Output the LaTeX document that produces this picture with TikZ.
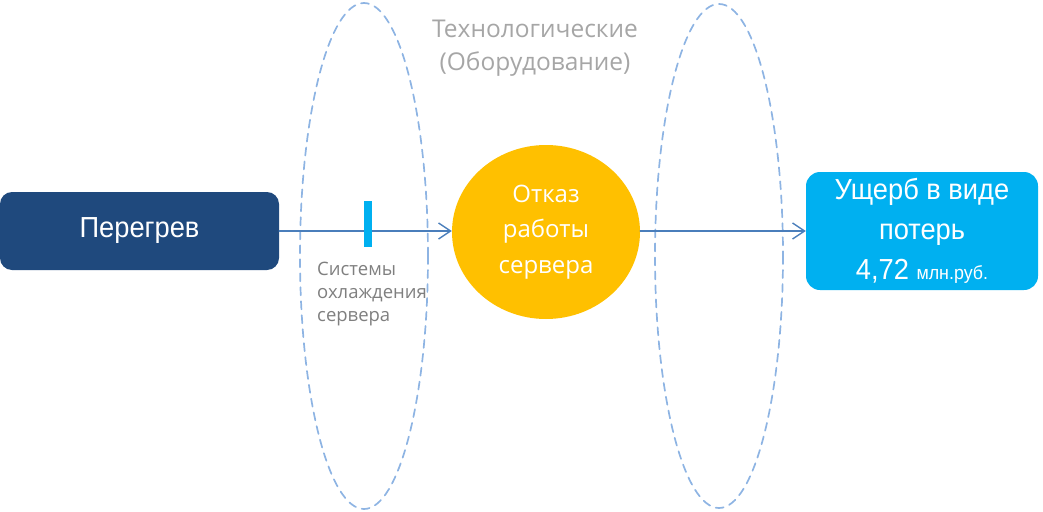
\documentclass[tikz,border=0pt]{standalone}
\usepackage{fontspec}
\setmainfont{Open Sans}
\newfontfamily\narrowsans{Liberation Sans}[FakeStretch=0.94]
\usepackage{tikz}
\usetikzlibrary{arrows.meta,shapes.geometric}
\usepackage{xcolor}
\definecolor{darkbox}{HTML}{1F497D}
\definecolor{lightbox}{HTML}{00B0F0}
\definecolor{amber}{HTML}{FFC000}
\definecolor{linkblue}{HTML}{4A7EBB}
\definecolor{ovalblue}{HTML}{8EB4E3}
\definecolor{labelgray}{HTML}{7F7F7F}
\definecolor{titlegray}{HTML}{A6A6A6}
\begin{document}
\begin{tikzpicture}[x=1pt,y=-1pt,>={Straight Barb[length=12pt,width=16pt]},line cap=round,
  zone/.style={ovalblue,line width=1.7pt,dash pattern=on 8pt off 6pt},
  link/.style={linkblue,line width=1.4pt,->}]
\useasboundingbox (0,0) rectangle (1043,511);
% dashed zones
\draw[zone] (364,256) ellipse[x radius=64,y radius=253];
\draw[zone] (719,256) ellipse[x radius=64,y radius=252];
% title of the zone
\node[text=titlegray,align=center,font=\fontsize{24.5}{33}\selectfont] (title) at (535,48) {Технологические\\(Оборудование)};
% chain
\node[fill=darkbox,rounded corners=12pt,minimum width=279,minimum height=78,inner sep=0,text=white,font=\narrowsans\fontsize{29}{34}\selectfont] (overheat) at (139.5,231) {Перегрев};
\node[ellipse,fill=amber,minimum width=188,minimum height=174,inner sep=0,text=white,align=center,font=\fontsize{24}{35.5}\selectfont] (failure) at (546,232) {Отказ\\работы\\сервера};
\node[fill=lightbox,rounded corners=14pt,minimum width=232,minimum height=118,inner sep=0,text=white,align=center,font=\narrowsans\fontsize{29}{40}\selectfont] (loss) at (922,231) {Ущерб в виде\\потерь\\4,72 {\fontsize{19}{40}\selectfont млн.руб.}};
\draw[link] (overheat.east) -- (failure.west |- overheat.east);
\draw[link] (failure.east |- overheat.east) -- (loss.west);
% barrier
\node[fill=lightbox,minimum width=8,minimum height=46,inner sep=0] (cooling) at (368,224) {};
\node[text=labelgray,anchor=north west,align=left,inner sep=0,font=\fontsize{18.5}{23}\selectfont] (coolinglabel) at (317,262) {Системы\\охлаждения\\сервера};
\end{tikzpicture}
\end{document}
